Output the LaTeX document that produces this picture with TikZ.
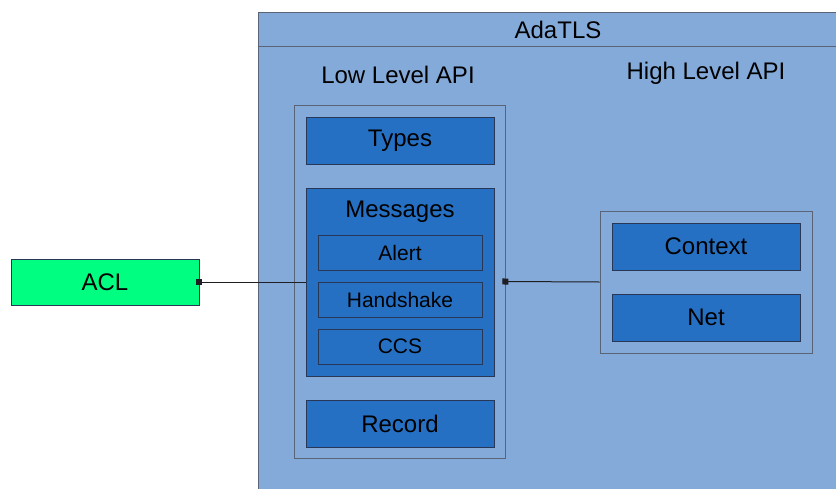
\documentclass[tikz,border=0pt]{standalone}
\usepackage{fontspec}
\setmainfont{Liberation Sans}
\usetikzlibrary{arrows.meta}
\definecolor{paneblue}{RGB}{132,170,218}
\definecolor{boxblue}{RGB}{38,112,196}
\definecolor{aclgreen}{RGB}{0,255,128}
\definecolor{panegray}{RGB}{90,100,118}
\definecolor{boxedge}{RGB}{40,55,85}
\definecolor{linkgray}{RGB}{30,30,35}

\begin{document}
\begin{tikzpicture}[x=1pt,y=-1pt,
  pane/.style={draw=panegray, fill=paneblue, line width=0.9pt},
  holder/.style={pane, inner sep=0pt},
  block/.style={draw=boxedge, fill=boxblue, line width=0.8pt, inner sep=0pt,
    minimum width=188pt, minimum height=47pt, font=\fontsize{24}{27}\selectfont},
  subblock/.style={block, minimum width=164pt, minimum height=35pt,
    font=\fontsize{21}{24}\selectfont},
  caption/.style={inner sep=0pt, font=\fontsize{24}{27}\selectfont},
  link/.style={draw=linkgray, line width=1pt, {Square[length=6pt,width=6pt]}-, shorten <=-3pt}
]
\clip (0,0) rectangle (836,488);
\fill[white] (0,0) rectangle (836,488);

% AdaTLS package frame with its title bar
\draw[pane] (258,12) rectangle (845,495);
\draw[panegray, line width=1pt] (258,46) -- (845,46);
\node[caption] (title) at (558,30) {AdaTLS};
\node[caption] (lowtitle) at (398,75) {Low Level API};
\node[caption] (hightitle) at (706,73) {High Level API};

% Low level API
\node[holder, minimum width=211pt, minimum height=353pt] (low) at (399.5,281.5) {};
\node[block] (types) at (400,140.5) {Types};
\node[block, minimum height=188pt] (messages) at (400,282) {};
\node[caption] (msgtitle) at (400,212) {Messages};
\node[subblock] (alert) at (400,252.5) {Alert};
\node[subblock] (handshake) at (400,299.5) {Handshake};
\node[subblock] (ccs) at (400,346.5) {CCS};
\node[block] (record) at (400,423.5) {Record};

% High level API
\node[holder, minimum width=212pt, minimum height=142pt] (high) at (706,282) {};
\node[block] (context) at (706,246.5) {Context};
\node[block] (net) at (706,317.5) {Net};

% External ACL component
\node[block, fill=aclgreen, minimum height=46pt] (acl) at (105,282) {ACL};

% Connectors
\draw[link] (acl.east) -- (messages.west);
\draw[link] (low.east) -- (high.west);
\end{tikzpicture}
\end{document}
